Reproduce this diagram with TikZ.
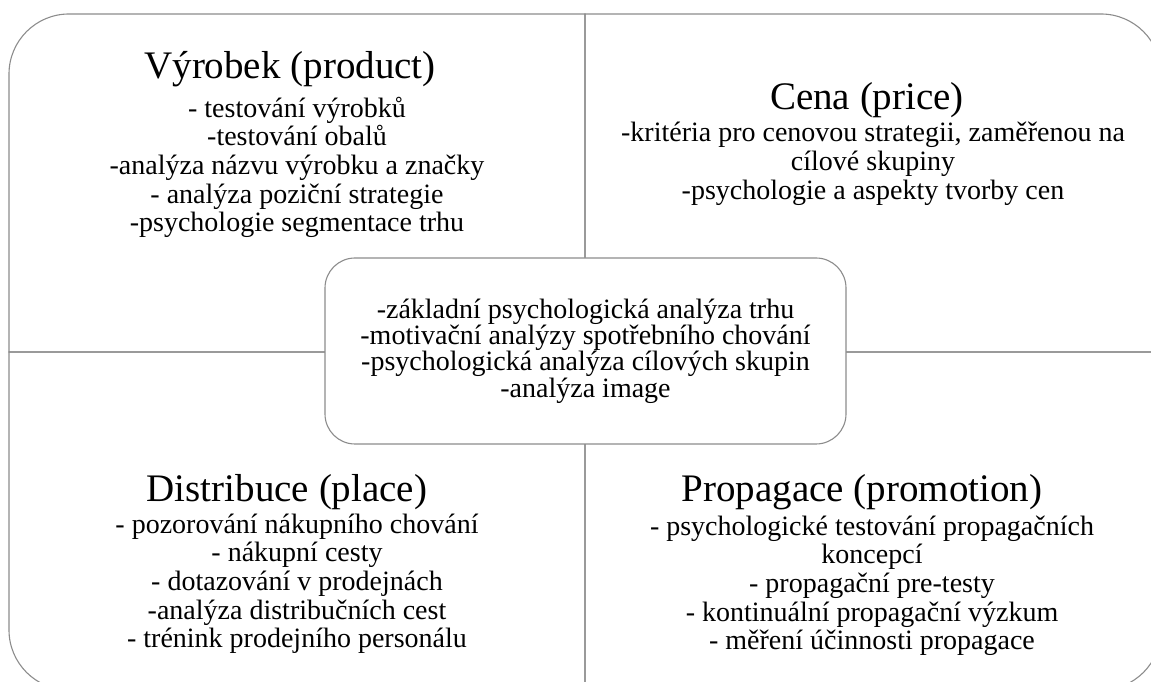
\documentclass[tikz,border=0pt]{standalone}
\usepackage{fontspec}
\setmainfont{Liberation Serif}
\usetikzlibrary{positioning}

\tikzset{
    quad/.style={draw=black!45, line width=1.1pt},
    heading/.style={font=\fontsize{39}{39}\selectfont, inner sep=0pt, anchor=base},
    points/.style={font=\fontsize{28}{28.6}\selectfont, align=center, inner sep=0pt, anchor=north},
}

\begin{document}
\begin{tikzpicture}[x=1pt, y=1pt]
    \useasboundingbox (0,0) rectangle (1151,682);
    \clip (0,0) rectangle (1151,682);

    % Four quadrants, each with one rounded outer corner
    \draw[quad] (585,330) -- (9,330) -- (9,608) arc[start angle=180, end angle=90, radius=60] -- (585,668) -- cycle;
    \draw[quad] (585,330) -- (585,668) -- (1101,668) arc[start angle=90, end angle=0, radius=60] -- (1161,330) -- cycle;
    \draw[quad] (585,330) -- (9,330) -- (9,52) arc[start angle=180, end angle=270, radius=60] -- (585,-8) -- cycle;
    \draw[quad] (585,330) -- (1161,330) -- (1161,52) arc[start angle=0, end angle=-90, radius=60] -- (585,-8) -- cycle;

    % Product
    \node[heading] (product) at (290,603) {Výrobek (product)};
    \node[points] (productlist) at (297,585.1) {- testování výrobků\\-testování obalů\\-analýza názvu výrobku a značky\\- analýza poziční strategie\\-psychologie segmentace trhu};

    % Price
    \node[heading] (price) at (867,572.7) {Cena (price)};
    \node[points] (pricelist) at (873,559.7) {-kritéria pro cenovou strategii, zaměřenou na\\cílové skupiny\\-psychologie a aspekty tvorby cen};

    % Place
    \node[heading] (place) at (287,180) {Distribuce (place)};
    \node[points] (placelist) at (297,168.4) {- pozorování nákupního chování\\- nákupní cesty\\- dotazování v prodejnách\\-analýza distribučních cest\\- trénink prodejního personálu};

    % Promotion
    \node[heading] (promo) at (862,180.3) {Propagace (promotion)};
    \node[points] (promolist) at (872,166.4) {- psychologické testování propagačních\\koncepcí\\- propagační pre-testy\\- kontinuální propagační výzkum\\- měření účinnosti propagace};

    % Centre box
    \node[quad, fill=white, rounded corners=30pt, minimum width=521pt, minimum height=186pt,
          points, font=\fontsize{28}{26.3}\selectfont, anchor=center] (core) at (585.5,331)
          {-základní psychologická analýza trhu\\-motivační analýzy spotřebního chování\\-psychologická analýza cílových skupin\\-analýza image};
\end{tikzpicture}
\end{document}
